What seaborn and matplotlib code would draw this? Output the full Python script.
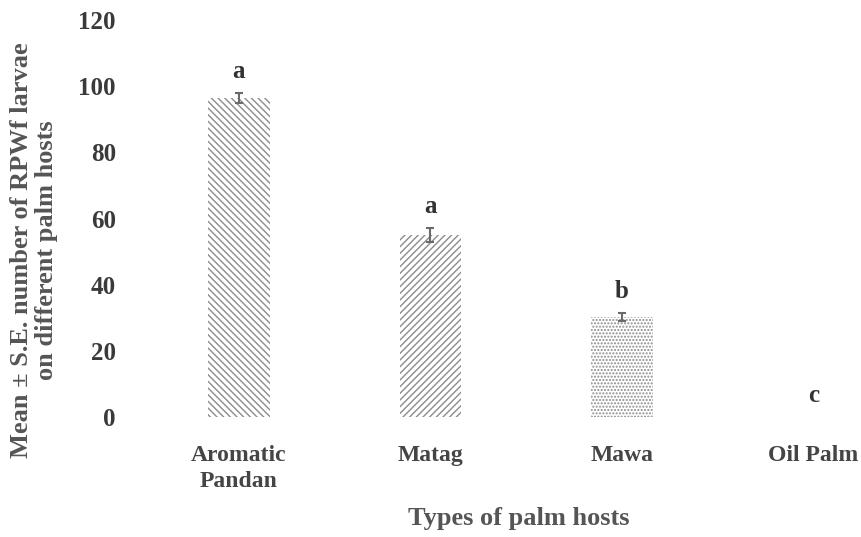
import matplotlib
matplotlib.use("Agg")
import matplotlib.pyplot as plt
import seaborn as sns
import pandas as pd

hosts = ["Aromatic\nPandan", "Matag", "Mawa", "Oil Palm"]
means = [96.3, 55, 30.2, 0]
se = [1.5, 2.0, 1.2, 0]
letters = ["a", "a", "b", "c"]
hatches = ["\\\\\\\\\\", "/////", ".....", ""]
yticks = [0, 20, 40, 60, 80, 100, 120]

sns.set_theme(style="white")
plt.rcParams['font.family'] = ['Liberation Serif', 'DejaVu Serif']
plt.rcParams['hatch.color'] = '#8c8c8c'
plt.rcParams['hatch.linewidth'] = 1.0

df = pd.DataFrame({"host": hosts, "mean": means})
fig = plt.figure(figsize=(8.61, 5.37), dpi=100)
ax = fig.add_axes([134/861, 1-417/537, (861-134)/861, (417-20)/537])
sns.barplot(data=df, x="host", y="mean", color="white", width=0.32,
            errorbar=None, ax=ax, saturation=1)
for p, h in zip(ax.patches, hatches):
    p.set_hatch(h)
    p.set_edgecolor('#8c8c8c')
    p.set_linewidth(0)
xs = [p.get_x() + p.get_width()/2 for p in ax.patches]
ax.errorbar(xs[:3], means[:3], yerr=se[:3], fmt='none', ecolor='#6a6a6a',
            elinewidth=1.5, capsize=3, capthick=1.5)
for x, m, s, l in zip(xs, means, se, letters):
    ax.text(x, m + s + 6.5, l, ha='center', va='center', fontsize=18,
            fontweight='bold', color='#333333')

ax.set_xlim(-0.548, 3.248)
ax.set_ylim(0, 120)
ax.set_yticks(yticks)
ax.set_yticklabels([str(t) for t in yticks], fontsize=18, fontweight='bold', color='#3a3a3a')
ax.tick_params(axis='x', labelsize=17, pad=20, length=0)
ax.tick_params(axis='y', pad=13, length=0)
for t in ax.get_xticklabels():
    t.set_fontweight('bold'); t.set_color('#454545')
    t.set_linespacing(1.3)
for s in ax.spines.values():
    s.set_visible(False)
ax.set_xlabel("Types of palm hosts", fontsize=19, fontweight='bold', color='#555555')
ax.xaxis.set_label_coords((519-134)/727, -(518-417)/397, transform=ax.transAxes)
ax.xaxis.label.set_va('center')
ax.set_ylabel("Mean ± S.E. number of RPWf larvae\non different palm hosts", fontsize=19,
              fontweight='bold', color='#555555', linespacing=1.15)
ax.yaxis.set_label_coords(-(134-34)/727, (417-250)/397, transform=ax.transAxes)
ax.yaxis.label.set_va('center')
fig.savefig("out.png", dpi=100)
